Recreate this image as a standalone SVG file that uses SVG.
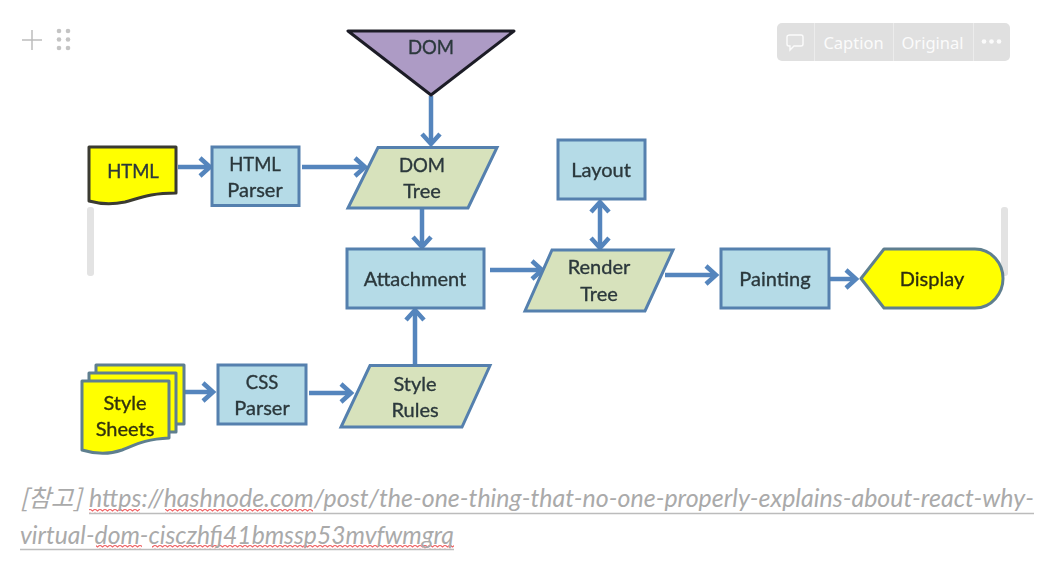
<svg xmlns="http://www.w3.org/2000/svg" width="1054" height="562" viewBox="0 0 1054 562">
<style>
.lbl{font-family:"Lato","Liberation Sans",sans-serif;font-size:20px;fill:#2c383c;stroke:#2c383c;stroke-width:0.35;text-anchor:middle}
.caps{font-size:18.500px}
.blue{fill:#b5dbe7;stroke:#5480ae;stroke-width:3}
.green{fill:#d7e2bc;stroke:#5480ae;stroke-width:3}
.yellow{fill:#ffff00;stroke:#5f7f8f;stroke-width:3;stroke-linejoin:round}
.conn{fill:none;stroke:#5485bd;stroke-width:4.500;marker-end:url(#a)}
.cap{font-family:"Lato","Noto Sans CJK KR",sans-serif;font-size:24.500px;font-style:italic;fill:#aaaaaa}
.tb{font-family:"Noto Sans",sans-serif;font-size:16.500px;fill:#fbfbfb;text-anchor:middle}
.ul{stroke:#bcbcbc;stroke-width:1.500;fill:none}
.sp{stroke:#f0686a;stroke-width:1.200;fill:none}
.grip{fill:#c4c4c4}
</style>
<defs>
<filter id="b" x="-5%" y="-5%" width="110%" height="110%"><feGaussianBlur stdDeviation="0.65"/></filter>
<marker id="a" markerUnits="userSpaceOnUse" markerWidth="18" markerHeight="24" refX="14" refY="12" orient="auto"><path d="M4 3L14 12L4 21" fill="none" stroke="#5485bd" stroke-width="4.500"/></marker>
<marker id="s" markerUnits="userSpaceOnUse" markerWidth="18" markerHeight="24" refX="4" refY="12" orient="auto"><path d="M14 3L4 12L14 21" fill="none" stroke="#5485bd" stroke-width="4.500"/></marker>
<pattern id="w" width="5" height="4" patternUnits="userSpaceOnUse"><path d="M0 1L2.500 3L5 1" class="sp"/></pattern>
</defs>
<rect width="1054" height="562" fill="#ffffff"/>
<g id="ui">
<path d="M22 40H42M32 30V50" stroke="#bdbdbd" stroke-width="1.500" fill="none"/>
<g class="grip"><circle cx="59" cy="31" r="2.300"/><circle cx="68" cy="31" r="2.300"/><circle cx="59" cy="39.500" r="2.300"/><circle cx="68" cy="39.500" r="2.300"/><circle cx="59" cy="48" r="2.300"/><circle cx="68" cy="48" r="2.300"/></g>
<rect x="87" y="207" width="7" height="69" rx="3" fill="#e3e3e3"/>
<rect x="1001" y="207" width="7" height="69" rx="3" fill="#e3e3e3"/>
</g>
<g id="connectors" filter="url(#b)">
<path class="conn" d="M431 96V144"/>
<path class="conn" d="M178 167H210"/>
<path class="conn" d="M302 167H365"/>
<path class="conn" d="M422 209V247"/>
<path class="conn" d="M490 270H542"/>
<path class="conn" d="M600 202V248" style="marker-start:url(#s)"/>
<path class="conn" d="M665 275H716"/>
<path class="conn" d="M830 279H856"/>
<path class="conn" d="M184 392H213"/>
<path class="conn" d="M309 393H351"/>
<path class="conn" d="M415 365V310"/>
</g>
<g id="n-dom" filter="url(#b)"><path d="M348 31H514L431 95Z" fill="#ad9bc5" stroke="#1e1e28" stroke-width="3" stroke-linejoin="round"/><text class="lbl caps" x="431" y="54">DOM</text></g>
<g id="n-html" filter="url(#b)"><path class="yellow" style="stroke:#3a3a30" d="M89 147H176V193C150 193 140 198 125 202C110 205 100 204 89 201Z"/><text class="lbl caps" x="133" y="178">HTML</text></g>
<g id="n-html-parser" filter="url(#b)"><rect class="blue" x="212" y="147" width="87" height="58.500"/><text class="lbl caps" x="255" y="171">HTML</text><text class="lbl" x="255" y="197">Parser</text></g>
<g id="n-dom-tree" filter="url(#b)"><path class="green" d="M378 147.500H497L468 208H348Z"/><text class="lbl caps" x="422" y="172">DOM</text><text class="lbl" x="422" y="198">Tree</text></g>
<g id="n-layout" filter="url(#b)"><rect class="blue" x="558" y="140" width="87" height="59"/><text class="lbl" x="601" y="177">Layout</text></g>
<g id="n-attachment" filter="url(#b)"><rect class="blue" x="347" y="249" width="137" height="59"/><text class="lbl" x="415" y="286">Attachment</text></g>
<g id="n-render-tree" filter="url(#b)"><path class="green" d="M552 250H673L645 311H525Z"/><text class="lbl" x="599" y="274">Render</text><text class="lbl" x="599" y="301">Tree</text></g>
<g id="n-painting" filter="url(#b)"><rect class="blue" x="721" y="249" width="108" height="59"/><text class="lbl" x="775" y="286">Painting</text></g>
<g id="n-display" filter="url(#b)"><path class="yellow" d="M861 278.500L884 249H975C992 249 1003 264 1003 278.500C1003 293 992 308 975 308H884Z"/><text class="lbl" x="932" y="286" style="fill:#2e2e10;stroke:#2e2e10">Display</text></g>
<g id="n-style-sheets" filter="url(#b)">
<path class="yellow" d="M96 365H184V424H96Z"/>
<path class="yellow" d="M89 373H176V432H89Z"/>
<path class="yellow" d="M82 381H169V438C145 439 135 445 122 450C108 455 95 454 82 450Z"/>
<text class="lbl" x="125" y="410" style="fill:#33330f;stroke:#33330f">Style</text><text class="lbl" x="125" y="436" style="fill:#33330f;stroke:#33330f">Sheets</text></g>
<g id="n-css-parser" filter="url(#b)"><rect class="blue" x="218" y="365" width="88" height="59"/><text class="lbl caps" x="262" y="389">CSS</text><text class="lbl" x="262" y="415">Parser</text></g>
<g id="n-style-rules" filter="url(#b)"><path class="green" d="M370 365.500H490L462 427H341Z"/><text class="lbl" x="415" y="391">Style</text><text class="lbl" x="415" y="417">Rules</text></g>
<g id="toolbar">
<rect x="777" y="23" width="233" height="38" rx="5" fill="#e0e0e0"/>
<path d="M814.500 23V61M893.500 23V61M973.500 23V61" stroke="#ececec" stroke-width="1"/>
<path d="M790 35H801Q803 35 803 37V44Q803 46 801 46H794L790 50V46H789Q787 46 787 44V37Q787 35 790 35Z" fill="none" stroke="#fbfbfb" stroke-width="1.400"/>
<text class="tb" x="853.500" y="49">Caption</text>
<text class="tb" x="932.500" y="49">Original</text>
<g fill="#fbfbfb"><circle cx="984" cy="41.500" r="2.300"/><circle cx="991.500" cy="41.500" r="2.300"/><circle cx="999" cy="41.500" r="2.300"/></g>
</g>
<g id="caption">
<path class="ul" d="M89 513.500H1034M20 549.500H454"/>
<rect x="89" y="509" width="51" height="4" fill="url(#w)"/>
<rect x="165" y="509" width="148" height="4" fill="url(#w)"/>
<rect x="96" y="545" width="46" height="4" fill="url(#w)"/>
<rect x="152" y="545" width="302" height="4" fill="url(#w)"/>
<text class="cap" x="20" y="507" style="font-family:'Noto Sans CJK KR','Lato',sans-serif">[참고]</text>
<text class="cap" x="89" y="507" textLength="945" lengthAdjust="spacingAndGlyphs">https://hashnode.com/post/the-one-thing-that-no-one-properly-explains-about-react-why-</text>
<text class="cap" x="20" y="544" textLength="434" lengthAdjust="spacingAndGlyphs">virtual-dom-cisczhfj41bmssp53mvfwmgrq</text>
</g>
</svg>
